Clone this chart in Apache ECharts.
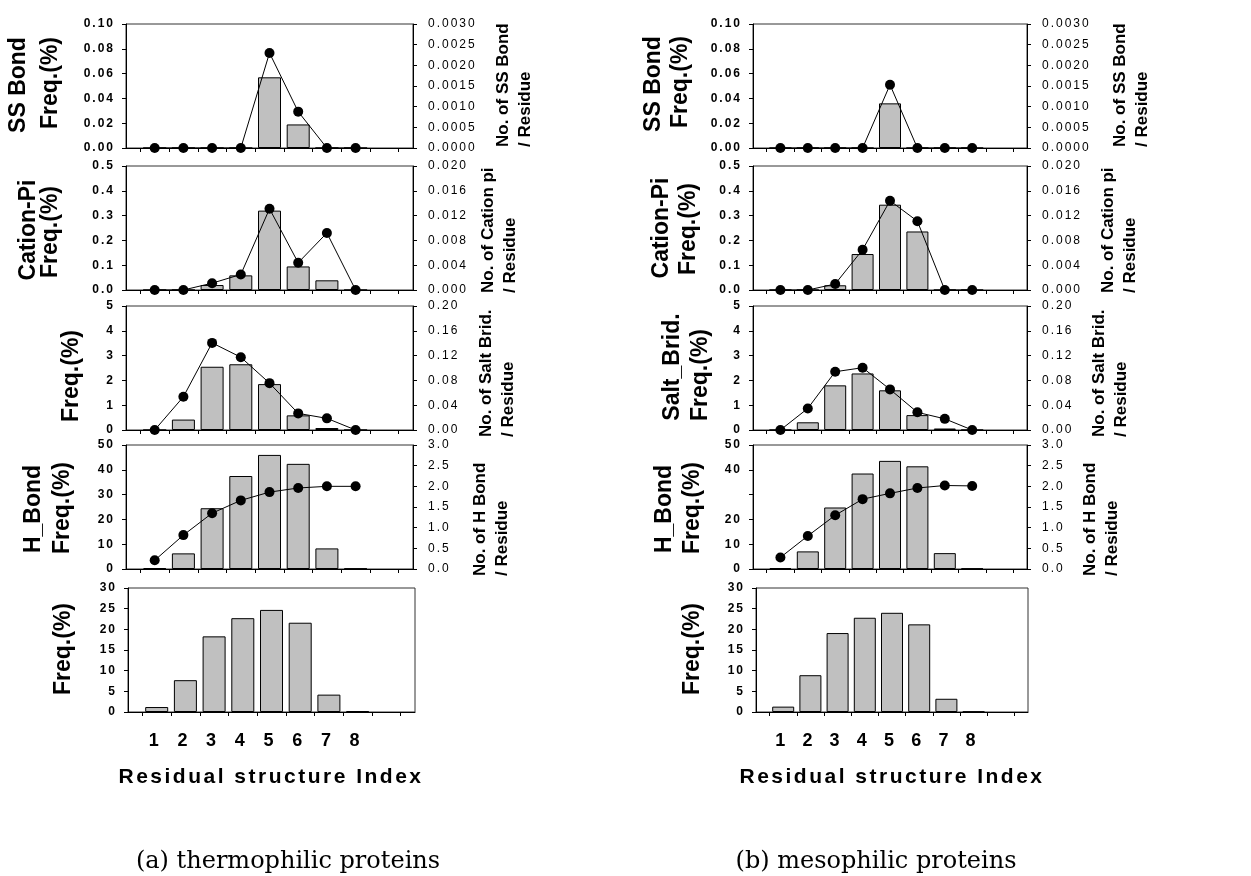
<!DOCTYPE html>
<html><head><meta charset="utf-8">
<script src="https://cdn.jsdelivr.net/npm/echarts@6/dist/echarts.min.js"></script>
<style>html,body{margin:0;padding:0;background:#fff}#c{width:1251px;height:876px}</style>
</head><body><div id="c"></div>
<script>
// Letter-spaced text for fonts requested as "Arial" (the original figure uses spaced tick labels)
(function(){
  var P = CanvasRenderingContext2D.prototype;
  var d = Object.getOwnPropertyDescriptor(P, 'font');
  if (!d || !('letterSpacing' in P)) return;
  Object.defineProperty(P, 'font', {configurable:true, enumerable:d.enumerable,
    get:function(){ return d.get.call(this); },
    set:function(v){ d.set.call(this, v); var m = /(\d+(?:\.\d+)?)px/.exec(v); var sp = '0px';
      if (/Arial/.test(v)) { sp = (m && +m[1] >= 20) ? '2.5px' : '2px'; }
      this.letterSpacing = sp; }});
})();

// ---------------- data ----------------
const xIndex = [1, 2, 3, 4, 5, 6, 7, 8];
const xTickLabels = ['1', '2', '3', '4', '5', '6', '7', '8'];

// (a) thermophilic proteins
const ssFreqA   = [0, 0, 0, 0, 0.057, 0.019, 0, 0];
const ssPerResA = [0, 0, 0, 0, 0.0023, 0.00088, 0, 0];
const cpFreqA   = [0, 0, 0.020, 0.059, 0.320, 0.095, 0.039, 0];
const cpPerResA = [0, 0, 0.0011, 0.0025, 0.0131, 0.0044, 0.0092, 0];
const sbFreqA   = [0, 0.42, 2.55, 2.65, 1.85, 0.59, 0.08, 0];
const sbPerResA = [0, 0.0536, 0.1405, 0.1174, 0.0756, 0.0268, 0.0188, 0];
const hbFreqA   = [0.4, 6.3, 24.5, 37.5, 46.0, 42.4, 8.3, 0.2];
const hbPerResA = [0.21, 0.82, 1.35, 1.66, 1.86, 1.96, 2.00, 2.00];
const rsFreqA   = [1.2, 7.7, 18.3, 22.7, 24.7, 21.6, 4.2, 0.2];

// (b) mesophilic proteins
const ssFreqB   = [0, 0, 0, 0, 0.036, 0, 0, 0];
const ssPerResB = [0, 0, 0, 0, 0.00153, 0, 0, 0];
const cpFreqB   = [0, 0, 0.019, 0.145, 0.344, 0.236, 0, 0];
const cpPerResB = [0, 0, 0.00097, 0.0065, 0.0144, 0.0111, 0, 0];
const sbFreqB   = [0, 0.31, 1.80, 2.28, 1.60, 0.60, 0.06, 0];
const sbPerResB = [0, 0.0348, 0.0940, 0.1005, 0.0655, 0.0285, 0.0180, 0];
const hbFreqB   = [0.4, 7.1, 24.8, 38.5, 43.6, 41.4, 6.4, 0.2];
const hbPerResB = [0.28, 0.80, 1.30, 1.69, 1.83, 1.96, 2.02, 2.01];
const rsFreqB   = [1.3, 8.9, 19.1, 22.8, 24.0, 21.2, 3.2, 0.1];

// axis scales (left = Freq.(%), right = No. per residue)
const leftAxes = [
  {max: 0.10, interval: 0.02, dec: 2},
  {max: 0.5, interval: 0.1, dec: 1},
  {max: 5, interval: 1, dec: 0},
  {max: 50, interval: 10, dec: 0},
  {max: 30, interval: 5, dec: 0}
];
const rightAxes = [
  {max: 0.003, interval: 0.0005, dec: 4},
  {max: 0.02, interval: 0.004, dec: 3},
  {max: 0.2, interval: 0.04, dec: 2},
  {max: 3, interval: 0.5, dec: 1},
  null
];
const rightNames = ['No. of SS Bond\n/ Residue', 'No. of Cation pi\n/ Residue', 'No. of Salt Brid.\n/ Residue', 'No. of H Bond\n/ Residue'];
const xTitle = 'Residual structure Index';

// ---------------- layout ----------------
const rowTops = [24, 166, 306, 445, 588];
const rowH = 124;
const tickSlots = Array.from({length: 21}, (_, i) => String(i / 2));

const panels = [
  {
    rows: [[ssFreqA, ssPerResA], [cpFreqA, cpPerResA], [sbFreqA, sbPerResA], [hbFreqA, hbPerResA], [rsFreqA, null]],
    left: 126, width: 287, left5: 128, width5: 287, barW: 23, skip: [[], [], [], [], []],
    leftNames: [['SS Bond', 19, 85], ['Freq.(%)', 51, 83], ['Cation-Pi', 29, 230], ['Freq.(%)', 51, 232],
                ['Freq.(%)', 72, 376], ['H_Bond', 34, 509], ['Freq.(%)', 63, 508], ['Freq.(%)', 64, 649]],
    rightNamePos: [[514, 147], [499, 293], [497, 437], [491, 576]],
    title: [271, 777], caption: ['(a) thermophilic proteins', 288, 862]
  },
  {
    rows: [[ssFreqB, ssPerResB], [cpFreqB, cpPerResB], [sbFreqB, sbPerResB], [hbFreqB, hbPerResB], [rsFreqB, null]],
    left: 753, width: 274, left5: 756, width5: 272, barW: 22, skip: [[], [], [], [30], []],
    leftNames: [['SS Bond', 654, 84], ['Freq.(%)', 681, 82], ['Cation-Pi', 662, 228], ['Freq.(%)', 689, 229],
                ['Salt_Brid.', 673, 367], ['Freq.(%)', 701, 375], ['H_Bond', 665, 509], ['Freq.(%)', 693, 508], ['Freq.(%)', 693, 649]],
    rightNamePos: [[1131, 147], [1119, 293], [1110, 437], [1101, 576]],
    title: [892, 777], caption: ['(b) mesophilic proteins', 876, 862]
  }
];

const grids = [], xAxes = [], yAxes = [], series = [], graphics = [];
const tickFont = "Arial, 'Liberation Sans', sans-serif";

panels.forEach(p => {
  rowTops.forEach((top, ri) => {
    const isLast = ri === 4;
    const gi = grids.length;
    grids.push({left: isLast ? p.left5 : p.left, top: top, width: isLast ? p.width5 : p.width, height: rowH,
      show: true, borderColor: '#333', borderWidth: 1, backgroundColor: 'transparent',
      containLabel: false, outerBoundsMode: 'none'});
    const xv = xAxes.length;
    xAxes.push({type: 'value', gridIndex: gi, position: 'bottom', min: 0, max: 10, interval: 1,
      axisLine: {show: false}, axisTick: {show: false}, splitLine: {show: false},
      axisLabel: {show: isLast, margin: 20, color: '#000', fontFamily: "'Liberation Sans', sans-serif",
        fontWeight: 'bold', fontSize: 18, padding: [0, 6, 0, 0],
        formatter: v => (v >= 1 && v <= xTickLabels.length) ? xTickLabels[v - 1] : ''}});
    xAxes.push({type: 'category', gridIndex: gi, position: 'bottom', boundaryGap: false, data: tickSlots,
      axisLine: {show: true, onZero: false, lineStyle: {color: '#000', width: 1}},
      axisTick: {show: true, length: 4, interval: (i) => i % 2 === 1, lineStyle: {color: '#000'}},
      axisLabel: {show: false}, splitLine: {show: false}});
    const la = leftAxes[ri];
    const skip = p.skip[ri];
    const yl = yAxes.length;
    yAxes.push({type: 'value', gridIndex: gi, position: 'left', min: 0, max: la.max, interval: la.interval,
      axisLine: {show: true, onZero: false, lineStyle: {color: '#000', width: 1}},
      axisTick: {show: true, length: 4, lineStyle: {color: '#000'}},
      splitLine: {show: false},
      axisLabel: {margin: 11, color: '#000', fontFamily: tickFont, fontWeight: 'bold', fontSize: 12,
        formatter: v => skip.indexOf(Math.round(v * 1e6) / 1e6) >= 0 ? '' : v.toFixed(la.dec)}});
    const [freq, perRes] = p.rows[ri];
    series.push({type: 'bar', xAxisIndex: xv, yAxisIndex: yl, barWidth: p.barW, silent: true, z: 2,
      data: xIndex.map((x, i) => [x, freq[i]]),
      itemStyle: {color: '#c0c0c0', borderColor: '#000', borderWidth: 1}});
    const ra = rightAxes[ri];
    if (ra) {
      const yr = yAxes.length;
      yAxes.push({type: 'value', gridIndex: gi, position: 'right', min: 0, max: ra.max, interval: ra.interval,
        axisLine: {show: true, onZero: false, lineStyle: {color: '#000', width: 1}},
        axisTick: {show: true, length: 4, lineStyle: {color: '#000'}},
        splitLine: {show: false},
        axisLabel: {margin: 15, color: '#000', fontFamily: tickFont, fontWeight: 'normal', fontSize: 12,
          formatter: v => v.toFixed(ra.dec)}});
      series.push({type: 'line', xAxisIndex: xv, yAxisIndex: yr, silent: true, z: 5,
        data: xIndex.map((x, i) => [x, perRes[i]]),
        symbol: 'circle', symbolSize: 10,
        lineStyle: {color: '#000', width: 1}, itemStyle: {color: '#000'}});
      const [nx, ny] = p.rightNamePos[ri];
      graphics.push({type: 'text', x: nx, y: ny, rotation: Math.PI / 2, silent: true,
        style: {text: rightNames[ri], font: "bold 17px 'Liberation Sans', sans-serif", fill: '#000',
          lineHeight: 22, align: 'left', verticalAlign: 'middle', textAlign: 'left', textVerticalAlign: 'middle'}});
    }
  });
  p.leftNames.forEach(([t, x, y]) => {
    graphics.push({type: 'text', x: x, y: y, rotation: Math.PI / 2, silent: true,
      style: {text: t, font: "bold 23px 'Liberation Sans', sans-serif", fill: '#000',
        align: 'center', verticalAlign: 'middle', textAlign: 'center', textVerticalAlign: 'middle'}});
  });
  graphics.push({type: 'text', x: p.title[0], y: p.title[1], silent: true,
    style: {text: xTitle, font: "bold 21px Arial, 'Liberation Sans', sans-serif", fill: '#000',
      align: 'center', verticalAlign: 'middle', textAlign: 'center', textVerticalAlign: 'middle'}});
  graphics.push({type: 'text', x: p.caption[1], y: p.caption[2], silent: true,
    style: {text: p.caption[0], font: "24px 'DejaVu Serif', serif", fill: '#000',
      align: 'center', verticalAlign: 'middle', textAlign: 'center', textVerticalAlign: 'middle'}});
});

const chart = echarts.init(document.getElementById('c'), null, {renderer: 'canvas'});
chart.setOption({
  animation: false,
  backgroundColor: '#fff',
  grid: grids,
  xAxis: xAxes,
  yAxis: yAxes,
  series: series,
  graphic: {elements: graphics}
});
</script>
</body></html>
